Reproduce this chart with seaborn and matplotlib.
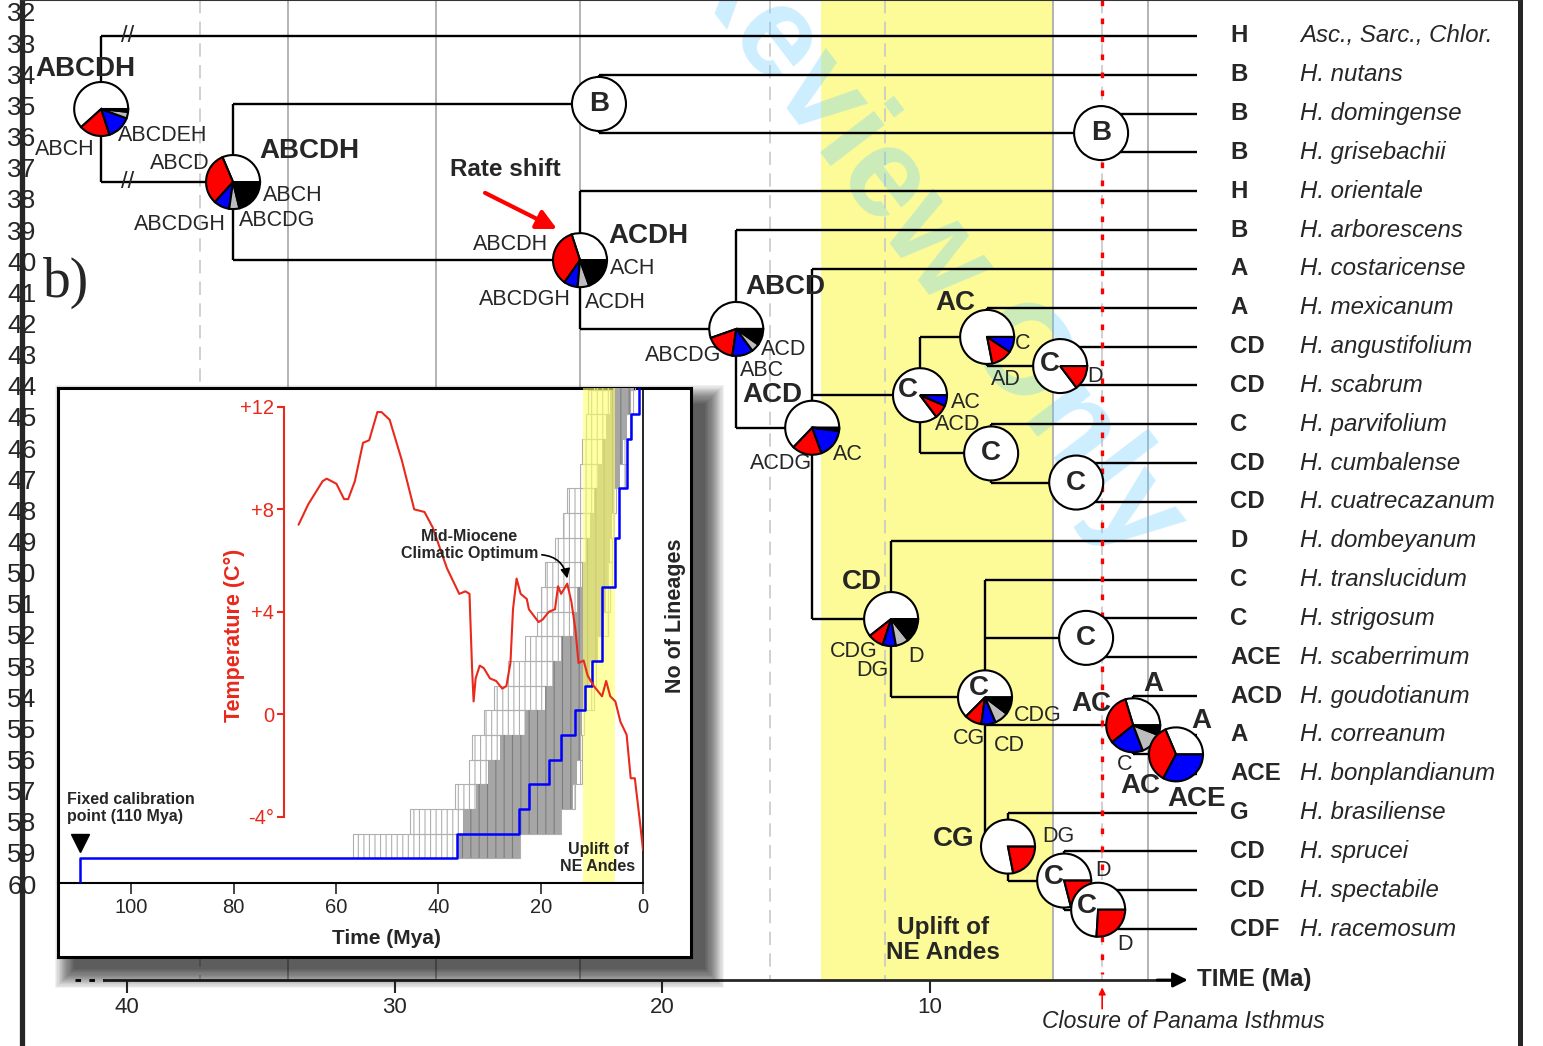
import numpy as np
import matplotlib
matplotlib.use('Agg')
import matplotlib.pyplot as plt
import seaborn as sns
from matplotlib.patches import Rectangle

# ---------------- data ----------------
# tips, top to bottom
tip_code = ['H', 'B', 'B', 'B', 'H', 'B', 'A', 'A', 'CD', 'CD', 'C', 'CD', 'CD', 'D',
            'C', 'C', 'ACE', 'ACD', 'A', 'ACE', 'G', 'CD', 'CD', 'CDF']
tip_name = ['Asc., Sarc., Chlor.', 'H. nutans', 'H. domingense', 'H. grisebachii',
            'H. orientale', 'H. arborescens', 'H. costaricense', 'H. mexicanum',
            'H. angustifolium', 'H. scabrum', 'H. parvifolium', 'H. cumbalense',
            'H. cuatrecazanum', 'H. dombeyanum', 'H. translucidum', 'H. strigosum',
            'H. scaberrimum', 'H. goudotianum', 'H. correanum', 'H. bonplandianum',
            'H. brasiliense', 'H. sprucei', 'H. spectabile', 'H. racemosum']

# internal nodes: age (Ma) and children (tip index or node name)
node_age = {'root': 40.97, 'n1': 36.04, 'n2': 22.36, 'n4': 3.59, 'n3': 23.07,
            'n5': 17.23, 'n6': 14.39, 'n8': 10.36, 'n9': 7.85, 'n11': 5.12,
            'n10': 7.70, 'n12': 4.52, 'ncd': 11.44, 'n13': 7.93, 'n14': 4.15,
            'n15': 2.39, 'n17': 0.79, 'n16': 7.07, 'n18': 4.97, 'n19': 3.70}
node_kids = {'root': [0, 'n1'], 'n1': ['n2', 'n3'], 'n2': [1, 'n4'], 'n4': [2, 3],
             'n3': [4, 'n5'], 'n5': [5, 'n6'], 'n6': [6, 'n8', 'ncd'],
             'n8': ['n9', 'n10'], 'n9': [7, 'n11'], 'n11': [8, 9],
             'n10': [10, 'n12'], 'n12': [11, 12], 'ncd': [13, 'n13'],
             'n13': [14, 'n14', 'n15', 'n16'], 'n14': [15, 16], 'n15': [17, 'n17'],
             'n17': [18, 19], 'n16': [20, 'n18'], 'n18': [21, 'n19'], 'n19': [22, 23]}

# ancestral range probabilities: white, red, blue, grey, black
pie_frac = {'root': [0.617, 0.183, 0.144, 0.039, 0.017],
            'n1': [0.314, 0.319, 0.094, 0.061, 0.212],
            'n2': [1.0], 'n4': [1.0],
            'n3': [0.300, 0.353, 0.083, 0.069, 0.195],
            'n5': [0.554, 0.173, 0.125, 0.050, 0.098],
            'n6': [0.628, 0.178, 0.175, 0.012, 0.007],
            'n8': [0.853, 0.083, 0.064],
            'n9': [0.781, 0.126, 0.093],
            'n11': [0.853, 0.147],
            'n10': [1.0], 'n12': [1.0],
            'ncd': [0.606, 0.094, 0.079, 0.079, 0.142],
            'n13': [0.625, 0.103, 0.086, 0.083, 0.103],
            'n14': [1.0],
            'n15': [0.297, 0.311, 0.200, 0.133, 0.059],
            'n17': [0.314, 0.358, 0.328],
            'n16': [0.781, 0.219],
            'n18': [0.790, 0.210],
            'n19': [0.740, 0.260]}
pie_letter = {'n2': ('B', 0, 0), 'n4': ('B', 0, 0), 'n10': ('C', 0, 0), 'n12': ('C', 0, 0),
              'n14': ('C', 0, 0), 'n8': ('C', -0.44, 0.19), 'n11': ('C', -0.37, 0.07),
              'n13': ('C', -0.22, 0.33), 'n18': ('C', -0.37, 0.15), 'n19': ('C', -0.41, 0.15)}

# node labels: node, text, dx px, dy px (down), bold
node_labels = [
    ('root', 'ABCDH', -16, -40, True), ('root', 'ABCH', -36, 40, False), ('root', 'ABCDEH', 61, 26, False),
    ('n1', 'ABCDH', 76, -31, True), ('n1', 'ABCD', -53, -19, False), ('n1', 'ABCH', 60, 13, False),
    ('n1', 'ABCDG', 44, 38, False), ('n1', 'ABCDGH', -53, 42, False),
    ('n3', 'ACDH', 68, -24, True), ('n3', 'ABCDH', -69, -16, False), ('n3', 'ACH', 53, 8, False),
    ('n3', 'ABCDGH', -55, 39, False), ('n3', 'ACDH', 35, 42, False),
    ('n5', 'ABCD', 49, -42, True), ('n5', 'ACD', 47, 21, False), ('n5', 'ABCDG', -53, 27, False),
    ('n5', 'ABC', 26, 42, False),
    ('n6', 'ACD', -40, -33, True), ('n6', 'ACDG', -31, 36, False), ('n6', 'AC', 36, 27, False),
    ('n8', 'AC', 46, 7, False), ('n8', 'ACD', 38, 29, False),
    ('n9', 'AC', -32, -34, True), ('n9', 'C', 35, 7, False), ('n9', 'AD', 19, 43, False),
    ('n11', 'D', 35, 10, False),
    ('ncd', 'CD', -29, -37, True), ('ncd', 'CDG', -37, 32, False), ('ncd', 'DG', -19, 51, False),
    ('ncd', 'D', 25, 37, False),
    ('n13', 'CDG', 53, 18, False), ('n13', 'CG', -16, 41, False), ('n13', 'CD', 24, 48, False),
    ('n15', 'AC', -42, -21, True), ('n15', 'A', 20, -41, True), ('n15', 'C', -9, 39, False),
    ('n15', 'AC', 7, 61, True),
    ('n17', 'A', 25, -33, True), ('n17', 'ACE', 21, 45, True),
    ('n16', 'CG', -54, -8, True), ('n16', 'DG', 50, -10, False),
    ('n18', 'D', 39, -10, False), ('n19', 'D', 27, 35, False)]

# time-scale background
epoch_solid = [33.98, 28.45, 23.07, 5.38, 1.83]
epoch_dashed = [37.27, 15.96, 11.66, 3.55]
andes_uplift = (14.06, 5.38)
panama_closure = 3.55
left_scale = list(range(32, 61))

# inset: temperature curve
temp_time = [67.3, 65.4, 62.6, 61.8, 59.9, 58.4, 57.6, 56.3, 54.7, 53.5,
             51.9, 51.1, 49.5, 47.1, 44.7, 42.7, 41.1, 38.3, 35.9, 34.7,
             33.9, 33.4, 33.1, 32.7, 31.9, 31.1, 29.9, 28.7, 27.5, 26.7,
             25.9, 25.4, 24.7, 23.9, 22.7, 22.3, 20.4, 19.6, 18.4, 17.2,
             16.6, 16.0, 14.8, 14.0, 13.2, 12.6, 11.6, 10.8, 9.6, 8.0,
             7.2, 6.4, 5.4, 4.4, 3.2, 2.4, 1.6, 0.6, 0.0]
temp_value = [7.4, 8.2, 9.1, 9.2, 9.0, 8.4, 8.4, 9.1, 10.6, 10.7,
              11.8, 11.8, 11.5, 9.9, 8.0, 7.9, 7.3, 5.7, 4.7, 4.8,
              4.7, 1.8, 0.5, 1.4, 1.9, 1.8, 1.4, 1.3, 1.0, 1.1,
              2.0, 4.1, 5.3, 4.7, 4.5, 4.1, 3.6, 3.7, 4.0, 4.1,
              5.0, 4.7, 5.1, 4.4, 3.3, 2.0, 2.1, 1.5, 1.1, 0.7,
              1.3, 0.7, 0.5, -0.3, -0.8, -2.5, -2.5, -4.2, -5.3]

# inset: lineages through time (MCC tree)
ltt_time = [110, 110, 36.3, 24.2, 22.3, 18.4, 16.0, 13.2, 11.4, 10.0, 8.1, 5.4, 4.6, 3.2, 2.4, 0.8, 0.0]
ltt_count = [1, 2, 3, 4, 5, 6, 7, 8, 9, 10, 13, 15, 17, 19, 20, 22, 22]

# inset: spread of posterior trees per lineage level
row_n = list(range(2, 22))
row_old = [56.7, 45.5, 36.7, 33.9, 33.5, 31.1, 29.1, 26.3, 23.1, 20.7,
           19.9, 19.2, 17.2, 15.6, 14.8, 12.4, 12.0, 11.2, 10.8, 9.6]
row_young = [24.0, 16.0, 13.2, 12.0, 12.0, 11.6, 9.6, 9.2, 8.0, 6.8,
             6.4, 6.0, 6.0, 5.6, 5.2, 3.6, 3.2, 2.4, 2.0, 1.6]
core_old = [36.3, 35.1, 32.7, 30.3, 27.9, 23.1, 19.2, 17.6, 16.0, 13.6,
            12.8, 12.0, 11.2, 10.4, 9.6, 8.8, 8.0, 7.2, 6.4, 5.6]
core_young = [24.0, 16.0, 13.6, 12.8, 12.4, 12.0, 11.2, 10.4, 8.8, 7.6,
              7.2, 6.8, 6.4, 6.0, 5.6, 4.4, 4.0, 3.2, 2.4, 1.8]
inset_uplift = (11.7, 5.4)

# ---------------- style ----------------
sns.set_style('white')
plt.rcParams['font.family'] = ['Liberation Sans', 'DejaVu Sans']
plt.rcParams['hatch.linewidth'] = 0.8
narrow = ['Liberation Sans Narrow', 'Liberation Sans', 'DejaVu Sans']
RED = '#e8291c'
YELLOW = '#fdfb97'
pie_cols = ['white', '#ff0000', '#0000ff', '#bdbdbd', 'black']

W, H = 1543, 1046
fig = plt.figure(figsize=(W / 100, H / 100), dpi=100)
ax = fig.add_axes([22 / W, 0, 1498 / W, 1], zorder=0)
ax.set_xlim(43.93, -12.07)
ax.set_ylim(26.01, -0.927)
AX_Y = 24.31   # time axis level

# node vertical positions
node_y = {}
def get_y(k):
    if isinstance(k, int):
        return float(k)
    if k not in node_y:
        node_y[k] = float(np.mean([get_y(c) for c in node_kids[k]]))
    return node_y[k]
get_y('root')

# background
ax.fill_betweenx([-0.93, AX_Y], andes_uplift[0], andes_uplift[1], color=YELLOW, lw=0, zorder=0.3)
ax.vlines(epoch_solid, -0.93, AX_Y, colors='#a8a8a8', lw=1.2, zorder=0.4)
ax.vlines(epoch_dashed, -0.93, AX_Y, colors='#c8c8c8', lw=1.2, linestyles=(0, (8, 5)), zorder=0.4)
ax.text(10.06, 5.25, 'Review Only', rotation=-52.6, fontsize=92, fontweight='bold', color='#66ccff',
        alpha=0.33, ha='center', va='center', zorder=0.5)

# tree
for k, kids in node_kids.items():
    t = node_age[k]
    ys = [get_y(c) for c in kids]
    ax.vlines(t, min(ys), max(ys), colors='black', lw=1.7, zorder=2)
    for c in kids:
        tc = 0.0 if isinstance(c, int) else node_age[c]
        ax.hlines(get_y(c), t, tc, colors='black', lw=1.7, zorder=2)
for yb in [0, node_y['n1']]:
    ax.text(40.0, yb, '//', fontsize=17, ha='center', va='center', zorder=3)

ax.vlines(panama_closure, -0.93, 24.15, colors='red', lw=2.4, linestyles=(0, (1.7, 3.7)), zorder=2.5)

# tip labels
for i, (c, n) in enumerate(zip(tip_code, tip_name)):
    ax.text(-1.23, i, c, fontsize=17.3, fontweight='bold', ha='left', va='center')
    ax.text(-3.85, i, n, fontsize=17.3, style='italic', ha='left', va='center')

for k, txt, dx, dy, bold in node_labels:
    ax.annotate(txt, xy=(node_age[k], node_y[k]), xytext=(dx, -dy), textcoords='offset pixels',
                ha='center', va='center', fontsize=20 if bold else 15.5,
                fontweight='bold' if bold else 'normal', zorder=4)

ax.text(42.3, 6.36, 'b)', family=['Liberation Serif', 'DejaVu Serif'], fontsize=40,
        ha='center', va='center')
ax.text(25.87, 3.43, 'Rate shift', fontsize=17.5, fontweight='bold', ha='center', va='center')
ax.annotate('', xy=(23.93, 4.97), xytext=(26.62, 4.04),
            arrowprops=dict(arrowstyle='-|>', color='red', lw=3, mutation_scale=30,
                            shrinkA=0, shrinkB=0))
ax.text(9.5, 23.28, 'Uplift of\nNE Andes', fontsize=17.5, fontweight='bold', ha='center',
        va='center', linespacing=1.15)

# time axis
for s in ['top', 'right', 'left', 'bottom']:
    ax.spines[s].set_visible(True)
ax.spines['left'].set_linewidth(3.8)
ax.spines['right'].set_linewidth(3.6)
ax.spines['top'].set_linewidth(1.5)
ax.spines['top'].set_color('#333333')
ax.spines['bottom'].set_position(('data', AX_Y))
ax.spines['bottom'].set_bounds(40.85, 1.0)
ax.spines['bottom'].set_linewidth(2)
ax.set_xticks([40, 30, 20, 10], labels=['40', '30', '20', '10'], fontfamily=narrow, fontsize=16)
ax.tick_params(axis='x', direction='out', length=9, width=1.5, pad=3, bottom=True)
ax.set_yticks([])
ax.plot([41.95, 40.85], [AX_Y, AX_Y], color='black', lw=2, ls=(0, (2, 3)))
ax.annotate('', xy=(0.35, AX_Y), xytext=(1.5, AX_Y),
            arrowprops=dict(arrowstyle='-|>', color='black', lw=2, mutation_scale=22,
                            shrinkA=0, shrinkB=0))
ax.text(0.0, AX_Y, 'TIME (Ma)', fontfamily=narrow, fontsize=17.5, fontweight='bold',
        ha='left', va='center')
ax.annotate('', xy=(panama_closure, 24.5), xytext=(panama_closure, 25.05),
            arrowprops=dict(arrowstyle='-|>', color='red', lw=1.2, mutation_scale=10,
                            shrinkA=0, shrinkB=0))
ax.text(0.52, 25.39, 'Closure of Panama Isthmus', fontfamily=narrow, fontsize=16.5,
        style='italic', ha='center', va='center')

# left scale 32..60
tw = ax.twinx()
tw.set_ylim(65.2, 31.615)
tw.yaxis.tick_left()
tw.set_yticks(left_scale, labels=[str(v) for v in left_scale], fontfamily=narrow, fontsize=19)
tw.tick_params(axis='y', length=0, pad=-10.5)
for sp in tw.spines.values():
    sp.set_visible(False)

# pies
for k in ['root', 'n1', 'n2', 'n3', 'n4', 'n5', 'n6', 'n8', 'n9', 'n11', 'n10', 'n12',
          'ncd', 'n13', 'n14', 'n15', 'n17', 'n16', 'n18', 'n19']:
    cx, cy = ax.transData.transform((node_age[k], node_y[k]))
    s = 27 * 1.08
    pa = fig.add_axes([(cx - s) / W, (cy - s) / H, 2 * s / W, 2 * s / H], zorder=3)
    fr = pie_frac[k]
    pa.pie(fr, colors=pie_cols[:len(fr)], startangle=0, counterclock=True, radius=1,
           wedgeprops=dict(edgecolor='black', linewidth=1.5))
    pa.set_xlim(-1.08, 1.08)
    pa.set_ylim(-1.08, 1.08)
    pa.set_aspect('equal')
    pa.axis('off')
    if k in pie_letter:
        L, lx, ly = pie_letter[k]
        pa.text(lx, ly, L, fontsize=20, fontweight='bold', ha='center', va='center')

# ---------------- inset ----------------
fx0, fy0, fx1, fy1 = 58, 388, 691, 957
for j in range(18):
    e = 1.1 * j
    x0, y0 = fx0 + 16 - e, fy0 + 16 - e
    x1, y1 = fx1 + 14 + e, fy1 + 12 + e
    fig.add_artist(Rectangle((x0 / W, (H - y1) / H), (x1 - x0) / W, (y1 - y0) / H,
                             transform=fig.transFigure, color='black', alpha=0.05, lw=0, zorder=0.5))
fa = fig.add_axes([fx0 / W, (H - fy1) / H, (fx1 - fx0) / W, (fy1 - fy0) / H], zorder=1)
fa.set_facecolor('white')
fa.set_xticks([])
fa.set_yticks([])
for sp in fa.spines.values():
    sp.set_visible(True)
    sp.set_linewidth(2.2)
    sp.set_color('black')

ai = fig.add_axes([58 / W, (H - 883) / H, 585 / W, 495 / H], zorder=2)
ai.set_facecolor('none')
ai.barh([n + 0.5 for n in row_n], [o - y for o, y in zip(row_old, row_young)], left=row_young,
        height=1.0, facecolor='none', edgecolor='#b0b0b0', hatch='|||', lw=0.8, zorder=1)
ai.barh([n + 0.5 for n in row_n], [o - y for o, y in zip(core_old, core_young)], left=core_young,
        height=1.0, facecolor='#a6a6a6', edgecolor='#7d7d7d', hatch='||', lw=0, zorder=1.5)
ai.axvspan(inset_uplift[0], inset_uplift[1], color='#ffff66', alpha=0.6, lw=0, zorder=2)
sns.lineplot(x=ltt_time, y=ltt_count, ax=ai, sort=False, estimator=None, color='#0000ff',
             lw=1.8, drawstyle='steps-post', zorder=3)
ai.plot([110], [2.62], marker='v', color='black', markersize=13, clip_on=False, zorder=4)
ai.set_xlim(114.3, 0)
ai.set_ylim(1, 21.07)
ai.set_yticks([])
ai.set_xticks([100, 80, 60, 40, 20, 0])
ai.tick_params(axis='x', direction='out', length=8, width=1.2, labelsize=14.5, pad=3, bottom=True)
ai.set_xlabel('Time (Mya)', fontsize=15, fontweight='bold')
ai.xaxis.set_label_coords(0.562, -0.093)
ai.set_ylabel('')
for s in ['left', 'top']:
    ai.spines[s].set_visible(False)
ai.spines['right'].set_linewidth(1.2)
ai.spines['bottom'].set_linewidth(1.5)
for s in ['right', 'bottom']:
    ai.spines[s].set_color('black')
    ai.spines[s].set_visible(True)
ai.text(1.056, 0.54, 'No of Lineages', transform=ai.transAxes, rotation=90, fontsize=15.5,
        fontweight='bold', ha='center', va='center')
ai.text(0.015, 0.152, 'Fixed calibration\npoint (110 Mya)', transform=ai.transAxes,
        fontsize=11.5, fontweight='bold', ha='left', va='center')
ai.text(0.923, 0.05, 'Uplift of\nNE Andes', transform=ai.transAxes, fontsize=11.5,
        fontweight='bold', ha='center', va='center', zorder=5)

tax = ai.twinx()
tax.set_zorder(2.5)
tax.patch.set_visible(False)
sns.lineplot(x=temp_time, y=temp_value, ax=tax, sort=False, estimator=None, color=RED, lw=1.5)
tax.set_ylim(-6.59, 12.74)
tax.set_xlim(114.3, 0)
for s in ['right', 'top', 'bottom']:
    tax.spines[s].set_visible(False)
tax.spines['left'].set_visible(True)
tax.spines['left'].set_position(('data', 70.1))
tax.spines['left'].set_bounds(-4, 12)
tax.spines['left'].set_color(RED)
tax.spines['left'].set_linewidth(1.5)
tax.yaxis.set_ticks_position('left')
tax.yaxis.set_label_position('left')
tax.set_yticks([12, 8, 4, 0, -4], labels=['+12', '+8', '+4', '0', '-4°'])
tax.tick_params(axis='y', colors=RED, labelcolor=RED, length=5, width=1.5, labelsize=14.5, pad=2)
tax.set_ylabel('Temperature (C°)', color=RED, fontsize=15.5, fontweight='bold', labelpad=-3)
tax.set_xlabel('')
tax.annotate('Mid-Miocene\nClimatic Optimum', xy=(14.8, 5.3), xycoords='data',
             xytext=(0.704, 0.683), textcoords='axes fraction', ha='center', va='center',
             fontsize=11.5, fontweight='bold',
             arrowprops=dict(arrowstyle='-|>', color='black', lw=1.2, mutation_scale=14,
                             connectionstyle='arc3,rad=-0.4', relpos=(1.0, 0.2),
                             shrinkA=0, shrinkB=0))

fig.savefig('out.png', dpi=100)
